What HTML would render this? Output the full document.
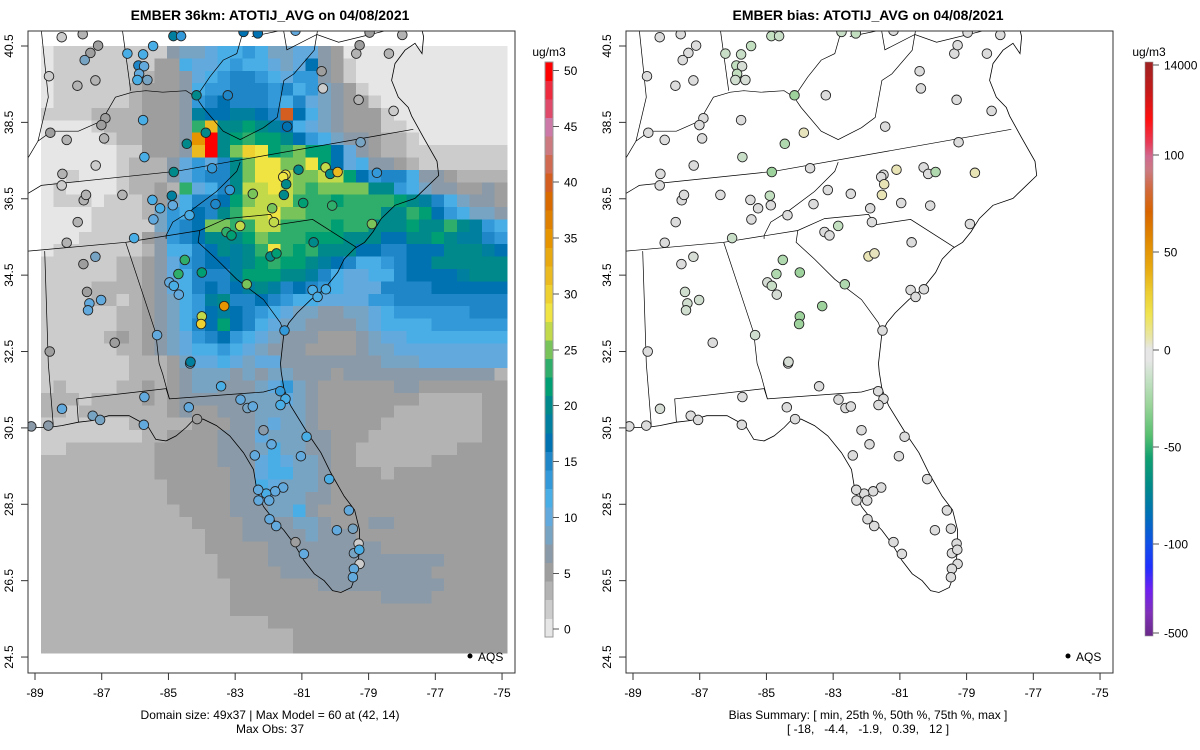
<!DOCTYPE html>
<html><head><meta charset="utf-8"><title>EMBER ATOTIJ_AVG</title>
<style>
html,body{margin:0;padding:0;background:#fff;}
svg{display:block;font-family:"Liberation Sans",Arial,sans-serif;}
</style></head>
<body>
<svg id="chart" width="1200" height="750" viewBox="0 0 1200 750" xmlns="http://www.w3.org/2000/svg">
<rect x="0" y="0" width="1200" height="750" fill="#fff"/>
<defs>
<clipPath id="clipL"><rect x="28" y="31" width="487" height="642"/></clipPath>
<clipPath id="clipR"><rect x="626" y="31" width="487" height="642"/></clipPath>
<linearGradient id="biasGrad" x1="0" y1="0" x2="0" y2="1">
<stop offset="0" stop-color="#9e2222"/><stop offset="0.05" stop-color="#c41a1a"/><stop offset="0.1" stop-color="#ff1010"/>
<stop offset="0.14" stop-color="#e83a55"/><stop offset="0.165" stop-color="#d06a90"/><stop offset="0.19" stop-color="#cc7a80"/>
<stop offset="0.22" stop-color="#d06a40"/><stop offset="0.26" stop-color="#d86400"/><stop offset="0.31" stop-color="#e08800"/>
<stop offset="0.36" stop-color="#e8aa10"/><stop offset="0.4" stop-color="#eccc30"/><stop offset="0.44" stop-color="#f0e450"/>
<stop offset="0.48" stop-color="#e8e6a8"/><stop offset="0.5" stop-color="#e6e6e6"/><stop offset="0.52" stop-color="#e6e6e6"/>
<stop offset="0.55" stop-color="#c8e2c8"/><stop offset="0.6" stop-color="#98d498"/><stop offset="0.65" stop-color="#58c070"/>
<stop offset="0.69" stop-color="#10a070"/><stop offset="0.74" stop-color="#008a8a"/><stop offset="0.79" stop-color="#0070b8"/>
<stop offset="0.84" stop-color="#1050e8"/><stop offset="0.88" stop-color="#2030ff"/><stop offset="0.92" stop-color="#7020f0"/>
<stop offset="0.96" stop-color="#8030b8"/><stop offset="1" stop-color="#6a2a88"/>
</linearGradient>
</defs>
<g id="layer"></g>
</svg>
<script>
// ---------------- data ----------------
const gridRows = [
"0111111111455677875566430000000000000",
"011111111337667877656a431000000000000",
"0111111123346789987688431000000000000",
"0111111233347889998978543100000000000",
"01111112333489a9998796543310000000000",
"111122223334baabba9oa754333100000000000",
"000012223334ejccdcba765433311000000000",
"000001223334lucdeddca8754432210000000",
"000000113334jucfihdefdda6432211111111",
"000000122246869cfhhffhda6744321111111",
"00100012224689 9cfhhgffggda89974432222".replace(" ",""),
"0100001223 2e679cgghgfeffffcc875443343".replace(" ",""),
"01110111235799adfgggeeedeeeedcb975443",
"000011112587a9ceggh ffeeeeeecceda87554".replace(" ",""),
"000011111589affeeggeeeedeecccdccecb87",
"0001111134 89acccdfeeedddcccaaccdcbb98".replace(" ",""),
"0111111124779acbcehedecccaa99aaacccba",
"1111112234689aabcdeddcba97789aacccccc",
"11111122346799 9bdddccb9766779aaaabccc".replace(" ",""),
"1111222234679a9abcb9a9876669999aaaaaa",
"1111221234578bc99a9877666688999999999",
"1111112234578aba98765544556788888899",
"1111112234579ada976554444567777888888",
"11111232345689a8765444333456677777777",
"11111122345677876544433334556666666666",
"11111112223566765664444444455566666666",
"11111112223455545455444344444444444422",
"121111223234554445685433333344333333 3".replace(" ",""),
"222122223234444455565433333333222223",
"221222222234334445555433333322222223",
"111111122222333445655433333222222223",
"111111112233334446555443332222222223",
"112222222333334445755443322222222333",
"222222222333334446765543322222233333 3".replace(" ",""),
"2222222223333334467755433332333333333",
"2222222222333334476555433333333333333",
"2222222222333334455554433333333333333",
"2222222222233334445574333333333333333",
"2222222222223333444455433344333333333",
"2222222222222333444445444333333333333",
"2222222222222333334444444443333333333",
"2222222222222233334444444444444433333",
"2222222222222233333444444444444333333",
"2222222222222223333333444444444433333",
"2222222222222223333333333334444333333",
"2222222222222223333333333333333333333",
"2222222222222222223333333333333333333",
"2222222222222222222233333333333333333",
"2222222222222222222233333333333333333"
];
const binColors = ["#e6e6e6","#cccccc","#b3b3b3","#9e9e9e","#8a9aa8","#78a4c4","#62aade","#4aaee6","#3399d8","#1f86c8","#0072b2","#00809e","#00898a","#009e73","#2fad6a","#78c35a","#c2d94a","#f0e442","#eed030","#ebba20","#e8a810","#e69500","#df8000","#d86a00","#d35e20","#d06a50","#cc7a80","#cc79a7","#e04a6a","#ee2a3f","#ff0000"];
const siteLon = [-88.20,-87.57,-87.11,-87.34,-87.51,-88.58,-87.73,-87.19,-86.23,-85.76,-85.46,-84.85,-84.62,-85.90,-85.73,-85.88,-85.93,-85.63,-84.16,-83.22,-82.75,-82.32,-81.19,-80.41,-80.37,-79.30,-78.39,-79.37,-79.27,-78.97,-77.99,-78.25,-86.89,-87.01,-88.54,-88.05,-86.93,-85.76,-84.45,-83.88,-81.44,-85.72,-87.18,-88.18,-88.20,-87.54,-87.47,-86.38,-84.84,-83.69,-81.10,-80.29,-80.15,-79.93,-79.24,-78.75,-81.49,-81.56,-81.47,-82.47,-81.54,-84.90,-84.87,-85.48,-85.25,-85.45,-84.37,-83.59,-83.16,-80.96,-80.09,-81.89,-81.84,-82.85,-83.26,-83.11,-78.90,-80.65,-81.94,-81.76,-84.51,-84.00,-84.70,-84.97,-84.84,-84.69,-82.65,-80.68,-80.53,-80.28,-83.33,-84.00,-84.02,-81.52,-86.03,-88.05,-87.72,-87.19,-87.55,-87.44,-87.37,-87.02,-87.41,-86.61,-88.56,-85.34,-84.35,-84.34,-83.42,-85.72,-84.39,-82.84,-82.63,-82.47,-81.65,-81.49,-81.64,-82.15,-84.14,-88.19,-87.27,-87.05,-88.60,-89.11,-85.74,-81.91,-80.86,-82.41,-81.03,-80.18,-81.56,-81.80,-82.07,-82.31,-82.30,-81.98,-79.59,-79.95,-79.47,-81.97,-81.77,-81.19,-80.94,-79.30,-79.44,-79.28,-79.27,-79.44,-79.47];
const siteLat = [40.73,40.81,40.51,40.32,40.13,39.71,39.46,39.60,40.30,40.28,40.50,40.76,40.76,39.99,39.97,39.77,39.61,39.61,39.21,39.21,40.87,40.83,40.90,39.84,39.39,39.09,40.30,40.30,40.52,40.85,40.79,38.80,38.61,38.43,38.23,38.04,38.08,38.56,37.94,38.23,38.39,37.59,37.37,37.15,36.85,36.46,36.60,36.60,37.20,37.30,37.26,37.32,37.15,37.20,37.98,37.18,37.13,37.07,36.88,36.63,36.60,36.58,36.33,36.47,36.25,35.96,36.07,36.36,36.73,36.39,36.32,36.25,35.89,35.79,35.63,35.54,35.84,35.36,34.99,35.07,34.90,34.57,34.53,34.31,34.22,33.99,34.26,34.11,33.93,34.13,33.69,33.42,33.22,33.05,35.47,35.35,35.89,34.98,34.79,34.06,33.76,33.85,33.58,32.73,32.50,32.93,32.19,32.23,31.59,31.31,31.04,31.24,31.02,31.06,31.46,31.26,31.10,30.44,30.73,31.00,30.82,30.71,30.56,30.54,30.58,30.07,30.27,29.78,29.76,29.16,28.94,28.84,28.78,28.88,28.60,28.60,28.34,27.82,27.86,28.11,27.93,27.51,27.20,27.47,27.22,27.31,26.94,26.81,26.59];
const siteObs = [1.5,3,5,5,8,1.5,3,3,11.5,11.5,11.5,18,13,15,10,10,11.5,8,20,15,16.5,16.5,10,5,1.5,3,3,3,5,5,3,1.5,5,5,5,3,3,11.5,20,20,16.5,11.5,1.5,3,1.5,3,3,3,20,13,20,26.5,20,31.5,8,13,28,28,20,25,20,18,10,11.5,11.5,10,11.5,15,13,21.5,23,25,26.5,26.5,23,21.5,25,20,20,21.5,23,21.5,23,10,11.5,10,25,11.5,11.5,11.5,34.5,26.5,30,13,11.5,3,3,8,5,5,10,10,10,5,5,10,10,18,11.5,10,10,10,8,10,13,11.5,11.5,6.5,5,10,8,8,6.5,6.5,10,10,11.5,10,10,11.5,10,10,11.5,10,10,10,10,10,8,10,10,5,10,1.5,8,11.5,1.5,10,10];
const siteBias = [-1,-1,-1,-1,-1,-1,-1,-1,-5,-5,-6,-6,-5,-6,-3,-6,-4,-3,-10,-1,-5,-6,-1,-1,-1,-1,-1,-1,-1,-1,-1,-1,-1,-1,-2,-1,-1,-1,-8,5,-1,-5,-1,-1,-1,-1,-1,-1,-10,-1,6,-1,-1,-8,-1,6,-1,-1,6,-1,6,-6,-1,-1,-1,-1,-1,-1,-1,-1,-1,-1,-1,-6,-1,-1,-1,-1,6,5,-8,-10,-8,-3,-5,-3,-8,-1,-1,-1,-10,-10,-10,-1,-5,-1,-1,-3,-1,-4,-4,-4,-4,-1,-1,-4,-1,-3,-1,-1,-1,-1,-1,-1,-1,-1,-1,-1,-1,-3,-1,-1,-1,-1,-1,-1,-1,-1,-1,-1,-1,-1,-1,-1,-1,-1,-1,-1,-1,-1,-1,-1,-1,-1,-1,-1,-1,-1,-1];
const xTickLabels = ["-89","-87","-85","-83","-81","-79","-77","-75"];
const xTickVals = [-89,-87,-85,-83,-81,-79,-77,-75];
const yTickLabels = ["40.5","38.5","36.5","34.5","32.5","30.5","28.5","26.5","24.5"];
const yTickVals = [40.5,38.5,36.5,34.5,32.5,30.5,28.5,26.5,24.5];
const cbarLabels = ["0","5","10","15","20","25","30","35","40","45","50"];
const cbarVals = [0,5,10,15,20,25,30,35,40,45,50];
const biasLabels = ["14000","100","50","0","-50","-100","-500"];
const biasLabelY = [65,155,252,350,447,544,633];
const coastline = [[-77.40,40.92],[-77.35,40.74],[-77.40,40.30],[-77.61,40.57],[-77.91,40.39],[-78.21,40.04],[-78.31,39.60],[-78.11,39.16],[-77.81,38.89],[-77.71,38.67],[-77.35,38.10],[-76.95,37.48],[-76.90,37.11],[-77.30,36.77],[-77.61,36.51],[-78.21,36.33],[-78.62,35.98],[-78.87,35.63],[-79.12,35.36],[-79.42,35.20],[-79.73,34.92],[-79.93,34.57],[-80.33,34.13],[-80.73,33.86],[-81.14,33.51],[-81.39,33.25],[-81.54,32.98],[-81.64,32.19],[-81.62,31.97],[-81.54,31.53],[-81.34,31.09],[-80.84,30.38],[-80.43,29.85],[-80.13,29.32],[-79.73,28.71],[-79.42,28.35],[-79.27,27.82],[-79.27,27.29],[-79.37,26.68],[-79.52,26.32],[-79.83,26.19],[-80.08,26.24],[-80.33,26.50],[-80.63,26.68],[-80.94,27.03],[-81.24,27.47],[-81.54,27.82],[-81.84,28.09],[-82.15,28.44],[-82.35,28.88],[-82.45,29.41],[-82.75,29.85],[-83.16,30.29],[-83.56,30.56],[-83.96,30.73],[-84.27,30.69],[-84.47,30.51],[-84.77,30.29],[-85.07,30.16],[-85.38,30.20],[-85.63,30.56],[-86.18,30.82],[-86.79,30.82],[-87.29,30.69],[-87.70,30.65],[-88.20,30.56],[-88.60,30.51],[-89.21,30.51]];
const borders = [
[[-77.66,38.32],[-84.77,37.22],[-88.81,36.85],[-89.21,36.64]],
[[-89.21,35.13],[-86.28,35.36],[-84.06,35.67],[-83.26,35.98],[-81.94,36.09],[-81.74,35.82],[-80.68,35.96],[-79.37,35.23]],
[[-84.06,35.67],[-84.11,35.36],[-83.56,34.92],[-82.95,34.39],[-82.15,33.86],[-81.64,33.25],[-81.54,32.98]],
[[-82.85,37.46],[-82.95,37.22],[-83.56,36.69],[-84.37,36.16],[-84.87,35.89],[-85.07,35.54],[-85.07,35.45]],
[[-86.28,35.36],[-85.78,34.04],[-85.38,32.98],[-85.28,32.19],[-85.17,31.90],[-84.97,31.26]],
[[-87.70,30.65],[-87.75,31.26],[-85.07,31.53],[-84.97,31.26],[-82.15,31.44],[-81.70,31.55]],
[[-88.71,35.13],[-88.60,32.19],[-88.45,30.56]],
[[-89.21,37.57],[-88.91,38.01],[-88.50,38.27],[-87.70,38.27],[-87.00,38.54],[-86.59,39.16],[-86.08,39.29],[-85.68,39.33],[-85.17,39.29],[-84.47,39.33],[-84.17,39.16],[-83.96,38.89],[-83.36,38.27],[-82.85,38.05],[-82.15,38.36],[-81.74,38.63],[-81.54,39.60],[-81.24,39.77],[-80.63,40.39],[-80.53,40.92]],
[[-84.17,39.16],[-83.76,39.69],[-83.36,40.13],[-82.95,40.30],[-82.75,40.92]],
[[-88.81,40.92],[-88.60,39.16],[-88.91,38.01]],
[[-86.38,40.92],[-86.13,39.33]],
[[-82.50,40.75],[-81.55,40.92],[-81.45,40.40],[-80.55,40.80],[-79.90,40.60],[-78.40,40.92]]
];

// ---------------- drawing ----------------
const NS = "http://www.w3.org/2000/svg";
const layer = document.getElementById("layer");
function mk(tag, attrs, parent) {
  const e = document.createElementNS(NS, tag);
  for (const k in attrs) e.setAttribute(k, attrs[k]);
  (parent || layer).appendChild(e);
  return e;
}
function X(lon, off) { return off + 35 + (lon + 89) * 33.36; }
function Y(lat) { return 46 + (40.5 - lat) * 38.19; }
const gLon0 = -88.82, gDLon = 0.3777, gLat0 = 40.5, gDLat = 0.3244;
function obsBin(v) { return Math.max(0, Math.min(30, Math.floor((v + 0.7) / 1.66))); }
function lerpC(a, b, t) {
  const pa = [1,3,5].map(i => parseInt(a.substr(i,2),16));
  const pb = [1,3,5].map(i => parseInt(b.substr(i,2),16));
  return "rgb(" + pa.map((v,i) => Math.round(v + (pb[i]-v)*t)).join(",") + ")";
}
function biasColor(v) {
  if (v >= 0) return lerpC("#dedede", "#ece6a8", Math.min(1, v / 8));
  if (v > -2) return "#dcdcdc";
  if (v > -6) return lerpC("#dcdcdc", "#c2dfc0", (-v - 2) / 4);
  return lerpC("#c2dfc0", "#8ccc8c", Math.min(1, (-v - 6) / 6));
}
function panel(off, isBias) {
  const clip = isBias ? "url(#clipR)" : "url(#clipL)";
  const g = mk("g", {"clip-path": clip});
  
  
  if (!isBias) {
    const gg = mk("g", {"shape-rendering": "crispEdges"}, g);
    
    
    gridRows.forEach((row, r) => {
      for (let c = 0; c < 37; c++) {
        const ch = row[c] || row[row.length - 1];
        const b = parseInt(ch, 36);
        const x0 = X(gLon0 + c * gDLon, off), x1 = X(gLon0 + (c + 1) * gDLon, off);
        const y0 = Y(gLat0 - r * gDLat), y1 = Y(gLat0 - (r + 1) * gDLat);
        const cell = mk("rect", {x: x0.toFixed(2), y: y0.toFixed(2), width: (x1 - x0 + 0.4).toFixed(2), height: (y1 - y0 + 0.4).toFixed(2), fill: binColors[b]}, gg);
        
        
      }
    });
  }
  const pts = a => a.map(p => X(p[0], off).toFixed(1) + "," + Y(p[1]).toFixed(1)).join(" ");
  const cl = mk("polyline", {points: pts(coastline), fill: "none", stroke: "#000", "stroke-width": 0.8}, g);
  
  
  borders.forEach(b => {
    const bl = mk("polyline", {points: pts(b), fill: "none", stroke: "#000", "stroke-width": 0.7}, g);
    
    
  });
  for (let i = 0; i < siteLon.length; i++) {
    const fill = isBias ? biasColor(siteBias[i]) : binColors[obsBin(siteObs[i])];
    const s = mk("circle", {cx: X(siteLon[i], off).toFixed(1), cy: Y(siteLat[i]).toFixed(1), r: 4.8, fill: fill, stroke: "#222", "stroke-width": 0.9}, g);
    
    
  }
  const box = mk("rect", {x: off + 28, y: 31, width: 487, height: 642, fill: "none", stroke: "#333", "stroke-width": 1});
  
  
  xTickVals.forEach((v, i) => {
    const x = X(v, off);
    const t = mk("line", {x1: x, y1: 673, x2: x, y2: 680, stroke: "#333"});
    
    
    const tl = mk("text", {x: x, y: 697, "font-size": 12, "text-anchor": "middle", fill: "#000"});
    tl.textContent = xTickLabels[i];
    
    
  });
  yTickVals.forEach((v, i) => {
    const y = Y(v);
    const t = mk("line", {x1: off + 21, y1: y, x2: off + 28, y2: y, stroke: "#333"});
    
    
    const tl = mk("text", {x: 0, y: 0, "font-size": 12, "text-anchor": "middle", fill: "#000", transform: "translate(" + (off + 13) + "," + y + ") rotate(-90)"});
    tl.textContent = yTickLabels[i];
    
    
  });
  const ld = mk("circle", {cx: off + 470, cy: 656, r: 2.5, fill: "#000"});
  
  
  const lt = mk("text", {x: off + 478, y: 661, "font-size": 12, fill: "#000"});
  lt.textContent = "AQS";
  
  
}
panel(0, false);
panel(598, true);

const cb = mk("g", {"shape-rendering": "crispEdges"});


const binH = 575 / 31;
binColors.forEach((c, i) => {
  const r = mk("rect", {x: 545, y: (637 - (i + 1) * binH).toFixed(2), width: 8, height: (binH + 0.3).toFixed(2), fill: c}, cb);
  
  
});
const cbf = mk("rect", {x: 545, y: 62, width: 8, height: 575, fill: "none", stroke: "#999", "stroke-width": 0.6}, cb);


cbarVals.forEach((v, i) => {
  const y = 637 - (v + 0.7) / 1.66 * binH;
  const t = mk("line", {x1: 553, y1: y, x2: 559, y2: y, stroke: "#555"}, cb);
  
  
  const tl = mk("text", {x: 564, y: y + 4.5, "font-size": 12, fill: "#000"}, cb);
  tl.textContent = cbarLabels[i];
  
  
});
const u1 = mk("text", {x: 549, y: 56, "font-size": 12, "text-anchor": "middle", fill: "#000"});
u1.textContent = "ug/m3";



const bcb = mk("g", {});


const bbar = mk("rect", {x: 1145, y: 62, width: 8, height: 574, fill: "url(#biasGrad)", stroke: "#999", "stroke-width": 0.6}, bcb);


biasLabels.forEach((l, i) => {
  const y = biasLabelY[i];
  const t = mk("line", {x1: 1153, y1: y, x2: 1159, y2: y, stroke: "#555"}, bcb);
  
  
  const tl = mk("text", {x: 1164, y: y + 4.5, "font-size": 12, fill: "#000"}, bcb);
  tl.textContent = l;
  
  
});
const u2 = mk("text", {x: 1149, y: 56, "font-size": 12, "text-anchor": "middle", fill: "#000"});
u2.textContent = "ug/m3";



function txt(x, y, s, size, bold, name) {
  const t = mk("text", {x: x, y: y, "font-size": size, "text-anchor": "middle", fill: "#000", "font-weight": bold ? "bold" : "normal"});
  t.setAttributeNS("http://www.w3.org/XML/1998/namespace", "xml:space", "preserve");
  t.style.whiteSpace = "pre";
  t.textContent = s;
  
  
}
txt(270, 20, "EMBER 36km: ATOTIJ_AVG on 04/08/2021", 14, true, "left-title");
txt(868, 20, "EMBER bias: ATOTIJ_AVG on 04/08/2021", 14, true, "right-title");
txt(270, 719, "Domain size: 49x37 | Max Model = 60 at (42, 14)", 12, false, "domain-caption");
txt(270, 733, "Max Obs: 37", 12, false, "max-obs-caption");
txt(868, 719, "Bias Summary: [ min, 25th %, 50th %, 75th %, max ]", 12, false, "bias-summary-caption");
txt(868, 733, "[ -18,   -4.4,   -1.9,   0.39,   12 ]", 12, false, "bias-summary-values");
</script>
</body></html>
